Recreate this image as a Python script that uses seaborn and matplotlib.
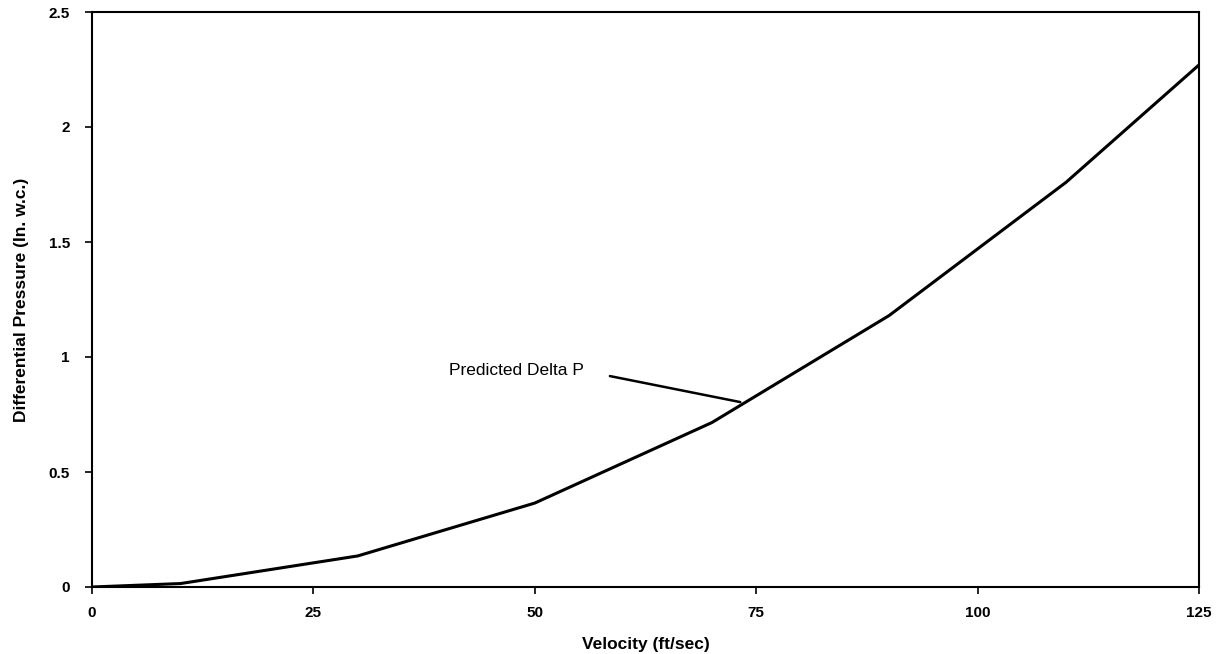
import matplotlib
matplotlib.use("Agg")
import matplotlib.pyplot as plt
import seaborn as sns
import pandas as pd

velocity = [0, 10, 30, 50, 70, 90, 110, 125]
delta_p = [0.0, 0.015, 0.135, 0.365, 0.715, 1.18, 1.76, 2.27]
x_ticks = [0, 25, 50, 75, 100, 125]
y_ticks = [0, 0.5, 1, 1.5, 2, 2.5]
y_tick_labels = ["0", "0.5", "1", "1.5", "2", "2.5"]

sns.set_style("white")
plt.rcParams['font.family'] = ['Liberation Sans', 'DejaVu Sans']
plt.rcParams['text.color'] = 'black'
plt.rcParams['axes.labelcolor'] = 'black'
plt.rcParams['xtick.color'] = 'black'
plt.rcParams['ytick.color'] = 'black'

df = pd.DataFrame({"Velocity": velocity, "DeltaP": delta_p})

fig = plt.figure(figsize=(12.28, 6.54), dpi=100)
ax = fig.add_axes([92/1228, 1 - 587/654, (1199 - 92)/1228, (587 - 12)/654])

sns.lineplot(data=df, x="Velocity", y="DeltaP", ax=ax, color="black", linewidth=2.2)

ax.set_xlim(0, 125)
ax.set_ylim(0, 2.5)
ax.set_xticks(x_ticks)
ax.set_xticklabels([str(t) for t in x_ticks], fontsize=11, fontweight="bold")
ax.set_yticks(y_ticks)
ax.set_yticklabels(y_tick_labels, fontsize=11, fontweight="bold")
ax.tick_params(axis="both", direction="out", length=5, width=1.2, color="black",
               labelcolor="black", bottom=True, left=True)
ax.tick_params(axis="x", pad=9)
ax.tick_params(axis="y", pad=11)

for s in ax.spines.values():
    s.set_visible(True)
    s.set_color("black")
    s.set_linewidth(1.5)

ax.set_xlabel("Velocity (ft/sec)", fontsize=12.5, fontweight="bold", labelpad=12, color="black")
ax.set_ylabel("Differential Pressure (In. w.c.)", fontsize=12.5, fontweight="bold", labelpad=14, color="black")

ax.annotate("Predicted Delta P", xy=(73.2, 0.804), xytext=(55.5, 0.94),
            fontsize=12.5, ha="right", va="center", color="black",
            arrowprops=dict(arrowstyle="-", color="black", lw=1.8,
                            relpos=(1.0, 0.5), shrinkA=17, shrinkB=0))

fig.savefig("out.png", dpi=100, facecolor="white")
